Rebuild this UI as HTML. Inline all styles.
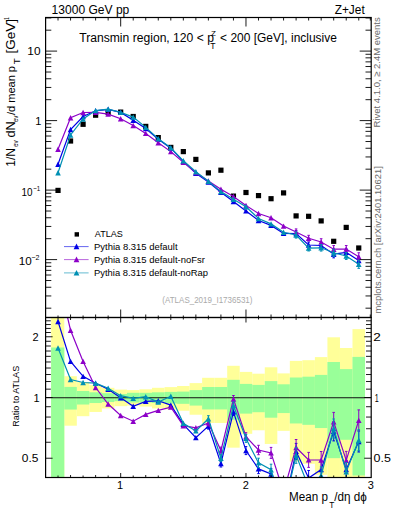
<!DOCTYPE html><html><head><meta charset="utf-8"><style>html,body{margin:0;padding:0;background:#fff;width:393px;height:512px;overflow:hidden}svg{display:block}text{font-family:"Liberation Sans",sans-serif}</style></head><body>
<svg width="393" height="512" viewBox="0 0 393 512">
<defs><clipPath id="cm"><rect x="45.6" y="17.5" width="325.59999999999997" height="300.0"/></clipPath><clipPath id="cr"><rect x="45.6" y="317.5" width="325.59999999999997" height="160.0"/></clipPath></defs>
<g clip-path="url(#cr)">
<rect x="51.10" y="250.00" width="13.20" height="350.00" fill="#ffff99"/>
<rect x="64.29" y="376.20" width="12.53" height="49.50" fill="#ffff99"/>
<rect x="76.82" y="382.10" width="12.53" height="34.10" fill="#ffff99"/>
<rect x="89.35" y="385.10" width="12.53" height="26.85" fill="#ffff99"/>
<rect x="101.88" y="387.80" width="12.53" height="20.61" fill="#ffff99"/>
<rect x="114.41" y="389.60" width="12.53" height="16.58" fill="#ffff99"/>
<rect x="126.95" y="390.10" width="12.53" height="15.48" fill="#ffff99"/>
<rect x="139.48" y="389.30" width="12.53" height="17.25" fill="#ffff99"/>
<rect x="152.00" y="387.80" width="12.53" height="20.61" fill="#ffff99"/>
<rect x="164.53" y="387.10" width="12.53" height="22.20" fill="#ffff99"/>
<rect x="177.06" y="386.00" width="12.53" height="24.74" fill="#ffff99"/>
<rect x="189.59" y="383.10" width="12.53" height="31.64" fill="#ffff99"/>
<rect x="202.12" y="377.80" width="12.53" height="45.16" fill="#ffff99"/>
<rect x="214.66" y="377.80" width="12.53" height="45.16" fill="#ffff99"/>
<rect x="227.19" y="365.80" width="12.53" height="81.87" fill="#ffff99"/>
<rect x="239.71" y="371.90" width="12.53" height="61.92" fill="#ffff99"/>
<rect x="252.25" y="373.70" width="12.53" height="56.58" fill="#ffff99"/>
<rect x="264.78" y="367.30" width="12.53" height="76.66" fill="#ffff99"/>
<rect x="277.31" y="373.40" width="12.53" height="57.46" fill="#ffff99"/>
<rect x="289.84" y="360.90" width="12.53" height="100.65" fill="#ffff99"/>
<rect x="302.37" y="360.20" width="12.53" height="103.59" fill="#ffff99"/>
<rect x="314.90" y="357.10" width="12.53" height="117.65" fill="#ffff99"/>
<rect x="327.43" y="337.30" width="12.53" height="449.20" fill="#ffff99"/>
<rect x="339.96" y="348.00" width="12.53" height="174.37" fill="#ffff99"/>
<rect x="352.49" y="329.10" width="12.53" height="270.90" fill="#ffff99"/>
<rect x="51.10" y="347.50" width="13.20" height="178.61" fill="#99ff99"/>
<rect x="64.29" y="386.90" width="12.53" height="22.66" fill="#99ff99"/>
<rect x="76.82" y="391.00" width="12.53" height="13.52" fill="#99ff99"/>
<rect x="89.35" y="392.30" width="12.53" height="10.73" fill="#99ff99"/>
<rect x="101.88" y="393.20" width="12.53" height="8.82" fill="#99ff99"/>
<rect x="114.41" y="394.00" width="12.53" height="7.15" fill="#99ff99"/>
<rect x="126.95" y="392.80" width="12.53" height="9.67" fill="#99ff99"/>
<rect x="139.48" y="392.80" width="12.53" height="9.67" fill="#99ff99"/>
<rect x="152.00" y="392.30" width="12.53" height="10.73" fill="#99ff99"/>
<rect x="164.53" y="391.90" width="12.53" height="11.58" fill="#99ff99"/>
<rect x="177.06" y="391.60" width="12.53" height="12.23" fill="#99ff99"/>
<rect x="189.59" y="390.10" width="12.53" height="15.48" fill="#99ff99"/>
<rect x="202.12" y="387.00" width="12.53" height="22.43" fill="#99ff99"/>
<rect x="214.66" y="387.00" width="12.53" height="22.43" fill="#99ff99"/>
<rect x="227.19" y="379.80" width="12.53" height="39.91" fill="#99ff99"/>
<rect x="239.71" y="383.90" width="12.53" height="29.71" fill="#99ff99"/>
<rect x="252.25" y="384.90" width="12.53" height="27.32" fill="#99ff99"/>
<rect x="264.78" y="381.10" width="12.53" height="36.59" fill="#99ff99"/>
<rect x="277.31" y="384.30" width="12.53" height="28.75" fill="#99ff99"/>
<rect x="289.84" y="377.50" width="12.53" height="45.96" fill="#99ff99"/>
<rect x="302.37" y="376.70" width="12.53" height="48.13" fill="#99ff99"/>
<rect x="314.90" y="374.90" width="12.53" height="53.14" fill="#99ff99"/>
<rect x="327.43" y="362.00" width="12.53" height="96.16" fill="#99ff99"/>
<rect x="339.96" y="369.10" width="12.53" height="70.69" fill="#99ff99"/>
<rect x="352.49" y="356.90" width="12.53" height="118.62" fill="#99ff99"/>
<line x1="45.6" y1="397.75" x2="371.2" y2="397.75" stroke="#111" stroke-width="1.1"/>
</g>
<rect x="55.43" y="187.80" width="5.2" height="5.2" fill="#000"/>
<rect x="67.96" y="138.40" width="5.2" height="5.2" fill="#000"/>
<rect x="80.49" y="121.70" width="5.2" height="5.2" fill="#000"/>
<rect x="93.02" y="112.60" width="5.2" height="5.2" fill="#000"/>
<rect x="105.55" y="110.00" width="5.2" height="5.2" fill="#000"/>
<rect x="118.08" y="109.50" width="5.2" height="5.2" fill="#000"/>
<rect x="130.61" y="113.90" width="5.2" height="5.2" fill="#000"/>
<rect x="143.14" y="123.80" width="5.2" height="5.2" fill="#000"/>
<rect x="155.67" y="135.00" width="5.2" height="5.2" fill="#000"/>
<rect x="168.20" y="144.80" width="5.2" height="5.2" fill="#000"/>
<rect x="180.73" y="149.00" width="5.2" height="5.2" fill="#000"/>
<rect x="193.26" y="156.80" width="5.2" height="5.2" fill="#000"/>
<rect x="205.79" y="170.30" width="5.2" height="5.2" fill="#000"/>
<rect x="218.32" y="167.60" width="5.2" height="5.2" fill="#000"/>
<rect x="230.85" y="193.50" width="5.2" height="5.2" fill="#000"/>
<rect x="243.38" y="189.90" width="5.2" height="5.2" fill="#000"/>
<rect x="255.91" y="193.00" width="5.2" height="5.2" fill="#000"/>
<rect x="268.44" y="196.10" width="5.2" height="5.2" fill="#000"/>
<rect x="280.97" y="190.30" width="5.2" height="5.2" fill="#000"/>
<rect x="293.50" y="213.30" width="5.2" height="5.2" fill="#000"/>
<rect x="306.03" y="213.70" width="5.2" height="5.2" fill="#000"/>
<rect x="318.56" y="218.30" width="5.2" height="5.2" fill="#000"/>
<rect x="331.09" y="238.70" width="5.2" height="5.2" fill="#000"/>
<rect x="343.62" y="224.80" width="5.2" height="5.2" fill="#000"/>
<rect x="356.15" y="245.40" width="5.2" height="5.2" fill="#000"/>
<g clip-path="url(#cm)"><polyline points="58.03,164.30 70.56,129.50 83.09,116.50 95.62,110.80 108.15,109.30 120.68,112.40 133.21,120.20 145.74,128.60 158.27,139.20 170.80,148.20 183.33,161.40 195.86,173.20 208.39,182.00 220.92,192.20 233.45,201.50 245.98,210.90 258.51,220.50 271.04,225.40 283.57,233.40 296.10,233.60 308.63,245.00 321.16,245.50 333.69,254.20 346.22,252.40 358.75,260.50" fill="none" stroke="#0000e6" stroke-width="1.2"/><path d="M296.10,230.52V236.68M294.80,230.52h2.6M294.80,236.68h2.6M308.63,242.12V247.88M307.33,242.12h2.6M307.33,247.88h2.6M321.16,242.23V248.77M319.86,242.23h2.6M319.86,248.77h2.6M333.69,250.55V257.85M332.39,250.55h2.6M332.39,257.85h2.6M346.22,248.94V255.86M344.92,248.94h2.6M344.92,255.86h2.6M358.75,256.46V264.54M357.45,256.46h2.6M357.45,264.54h2.6" stroke="#0000e6" stroke-width="1" fill="none"/><path d="M55.23,167.02L60.83,167.02L58.03,161.58Z" fill="#0000e6"/><path d="M67.76,132.22L73.36,132.22L70.56,126.78Z" fill="#0000e6"/><path d="M80.29,119.22L85.89,119.22L83.09,113.78Z" fill="#0000e6"/><path d="M92.82,113.52L98.42,113.52L95.62,108.08Z" fill="#0000e6"/><path d="M105.35,112.02L110.95,112.02L108.15,106.58Z" fill="#0000e6"/><path d="M117.88,115.12L123.48,115.12L120.68,109.68Z" fill="#0000e6"/><path d="M130.41,122.92L136.01,122.92L133.21,117.48Z" fill="#0000e6"/><path d="M142.94,131.32L148.54,131.32L145.74,125.88Z" fill="#0000e6"/><path d="M155.47,141.92L161.07,141.92L158.27,136.48Z" fill="#0000e6"/><path d="M168.00,150.92L173.60,150.92L170.80,145.48Z" fill="#0000e6"/><path d="M180.53,164.12L186.13,164.12L183.33,158.68Z" fill="#0000e6"/><path d="M193.06,175.92L198.66,175.92L195.86,170.48Z" fill="#0000e6"/><path d="M205.59,184.72L211.19,184.72L208.39,179.28Z" fill="#0000e6"/><path d="M218.12,194.92L223.72,194.92L220.92,189.48Z" fill="#0000e6"/><path d="M230.65,204.22L236.25,204.22L233.45,198.78Z" fill="#0000e6"/><path d="M243.18,213.62L248.78,213.62L245.98,208.18Z" fill="#0000e6"/><path d="M255.71,223.22L261.31,223.22L258.51,217.78Z" fill="#0000e6"/><path d="M268.24,228.12L273.84,228.12L271.04,222.68Z" fill="#0000e6"/><path d="M280.77,236.12L286.37,236.12L283.57,230.68Z" fill="#0000e6"/><path d="M293.30,236.32L298.90,236.32L296.10,230.88Z" fill="#0000e6"/><path d="M305.83,247.72L311.43,247.72L308.63,242.28Z" fill="#0000e6"/><path d="M318.36,248.22L323.96,248.22L321.16,242.78Z" fill="#0000e6"/><path d="M330.89,256.92L336.49,256.92L333.69,251.48Z" fill="#0000e6"/><path d="M343.42,255.12L349.02,255.12L346.22,249.68Z" fill="#0000e6"/><path d="M355.95,263.22L361.55,263.22L358.75,257.78Z" fill="#0000e6"/></g>
<g clip-path="url(#cm)"><polyline points="58.03,149.20 70.56,117.80 83.09,112.50 95.62,112.40 108.15,114.10 120.68,118.80 133.21,125.50 145.74,133.40 158.27,142.80 170.80,151.60 183.33,162.30 195.86,172.50 208.39,181.00 220.92,189.30 233.45,196.50 245.98,205.50 258.51,213.50 271.04,217.70 283.57,226.10 296.10,232.00 308.63,238.20 321.16,242.00 333.69,249.20 346.22,249.00 358.75,256.80" fill="none" stroke="#8c00c8" stroke-width="1.2"/><path d="M296.10,228.92V235.08M294.80,228.92h2.6M294.80,235.08h2.6M308.63,235.32V241.08M307.33,235.32h2.6M307.33,241.08h2.6M321.16,238.73V245.27M319.86,238.73h2.6M319.86,245.27h2.6M333.69,245.55V252.85M332.39,245.55h2.6M332.39,252.85h2.6M346.22,245.54V252.46M344.92,245.54h2.6M344.92,252.46h2.6M358.75,252.76V260.84M357.45,252.76h2.6M357.45,260.84h2.6" stroke="#8c00c8" stroke-width="1" fill="none"/><path d="M55.23,151.92L60.83,151.92L58.03,146.48Z" fill="#8c00c8"/><path d="M67.76,120.52L73.36,120.52L70.56,115.08Z" fill="#8c00c8"/><path d="M80.29,115.22L85.89,115.22L83.09,109.78Z" fill="#8c00c8"/><path d="M92.82,115.12L98.42,115.12L95.62,109.68Z" fill="#8c00c8"/><path d="M105.35,116.82L110.95,116.82L108.15,111.38Z" fill="#8c00c8"/><path d="M117.88,121.52L123.48,121.52L120.68,116.08Z" fill="#8c00c8"/><path d="M130.41,128.22L136.01,128.22L133.21,122.78Z" fill="#8c00c8"/><path d="M142.94,136.12L148.54,136.12L145.74,130.68Z" fill="#8c00c8"/><path d="M155.47,145.52L161.07,145.52L158.27,140.08Z" fill="#8c00c8"/><path d="M168.00,154.32L173.60,154.32L170.80,148.88Z" fill="#8c00c8"/><path d="M180.53,165.02L186.13,165.02L183.33,159.58Z" fill="#8c00c8"/><path d="M193.06,175.22L198.66,175.22L195.86,169.78Z" fill="#8c00c8"/><path d="M205.59,183.72L211.19,183.72L208.39,178.28Z" fill="#8c00c8"/><path d="M218.12,192.02L223.72,192.02L220.92,186.58Z" fill="#8c00c8"/><path d="M230.65,199.22L236.25,199.22L233.45,193.78Z" fill="#8c00c8"/><path d="M243.18,208.22L248.78,208.22L245.98,202.78Z" fill="#8c00c8"/><path d="M255.71,216.22L261.31,216.22L258.51,210.78Z" fill="#8c00c8"/><path d="M268.24,220.42L273.84,220.42L271.04,214.98Z" fill="#8c00c8"/><path d="M280.77,228.82L286.37,228.82L283.57,223.38Z" fill="#8c00c8"/><path d="M293.30,234.72L298.90,234.72L296.10,229.28Z" fill="#8c00c8"/><path d="M305.83,240.92L311.43,240.92L308.63,235.48Z" fill="#8c00c8"/><path d="M318.36,244.72L323.96,244.72L321.16,239.28Z" fill="#8c00c8"/><path d="M330.89,251.92L336.49,251.92L333.69,246.48Z" fill="#8c00c8"/><path d="M343.42,251.72L349.02,251.72L346.22,246.28Z" fill="#8c00c8"/><path d="M355.95,259.52L361.55,259.52L358.75,254.08Z" fill="#8c00c8"/></g>
<g clip-path="url(#cm)"><polyline points="58.03,172.70 70.56,135.00 83.09,119.00 95.62,110.60 108.15,109.10 120.68,112.40 133.21,117.10 145.74,127.40 158.27,138.70 170.80,147.80 183.33,160.80 195.86,171.70 208.39,181.30 220.92,191.60 233.45,199.20 245.98,206.80 258.51,218.50 271.04,223.90 283.57,232.30 296.10,235.00 308.63,248.10 321.16,247.80 333.69,252.80 346.22,256.00 358.75,264.30" fill="none" stroke="#0090b4" stroke-width="1.2"/><path d="M296.10,231.92V238.08M294.80,231.92h2.6M294.80,238.08h2.6M308.63,245.22V250.98M307.33,245.22h2.6M307.33,250.98h2.6M321.16,244.53V251.07M319.86,244.53h2.6M319.86,251.07h2.6M333.69,249.15V256.45M332.39,249.15h2.6M332.39,256.45h2.6M346.22,252.54V259.46M344.92,252.54h2.6M344.92,259.46h2.6M358.75,260.26V268.34M357.45,260.26h2.6M357.45,268.34h2.6" stroke="#0090b4" stroke-width="1" fill="none"/><path d="M55.23,175.42L60.83,175.42L58.03,169.98Z" fill="#0090b4"/><path d="M67.76,137.72L73.36,137.72L70.56,132.28Z" fill="#0090b4"/><path d="M80.29,121.72L85.89,121.72L83.09,116.28Z" fill="#0090b4"/><path d="M92.82,113.32L98.42,113.32L95.62,107.88Z" fill="#0090b4"/><path d="M105.35,111.82L110.95,111.82L108.15,106.38Z" fill="#0090b4"/><path d="M117.88,115.12L123.48,115.12L120.68,109.68Z" fill="#0090b4"/><path d="M130.41,119.82L136.01,119.82L133.21,114.38Z" fill="#0090b4"/><path d="M142.94,130.12L148.54,130.12L145.74,124.68Z" fill="#0090b4"/><path d="M155.47,141.42L161.07,141.42L158.27,135.98Z" fill="#0090b4"/><path d="M168.00,150.52L173.60,150.52L170.80,145.08Z" fill="#0090b4"/><path d="M180.53,163.52L186.13,163.52L183.33,158.08Z" fill="#0090b4"/><path d="M193.06,174.42L198.66,174.42L195.86,168.98Z" fill="#0090b4"/><path d="M205.59,184.02L211.19,184.02L208.39,178.58Z" fill="#0090b4"/><path d="M218.12,194.32L223.72,194.32L220.92,188.88Z" fill="#0090b4"/><path d="M230.65,201.92L236.25,201.92L233.45,196.48Z" fill="#0090b4"/><path d="M243.18,209.52L248.78,209.52L245.98,204.08Z" fill="#0090b4"/><path d="M255.71,221.22L261.31,221.22L258.51,215.78Z" fill="#0090b4"/><path d="M268.24,226.62L273.84,226.62L271.04,221.18Z" fill="#0090b4"/><path d="M280.77,235.02L286.37,235.02L283.57,229.58Z" fill="#0090b4"/><path d="M293.30,237.72L298.90,237.72L296.10,232.28Z" fill="#0090b4"/><path d="M305.83,250.82L311.43,250.82L308.63,245.38Z" fill="#0090b4"/><path d="M318.36,250.52L323.96,250.52L321.16,245.08Z" fill="#0090b4"/><path d="M330.89,255.52L336.49,255.52L333.69,250.08Z" fill="#0090b4"/><path d="M343.42,258.72L349.02,258.72L346.22,253.28Z" fill="#0090b4"/><path d="M355.95,267.02L361.55,267.02L358.75,261.58Z" fill="#0090b4"/></g>
<g clip-path="url(#cr)"><polyline points="58.03,321.50 70.56,361.40 83.09,376.40 95.62,383.20 108.15,389.30 120.68,397.70 133.21,406.30 145.74,401.40 158.27,400.80 170.80,405.10 183.33,424.30 195.86,437.60 208.39,426.10 220.92,463.50 233.45,411.90 245.98,450.60 258.51,468.90 271.04,474.00 283.57,510.00 296.10,451.40 308.63,478.00 321.16,469.50 333.69,431.40 346.22,469.50 358.75,441.50" fill="none" stroke="#0000e6" stroke-width="1.2"/><path d="M208.39,423.10V429.10M207.09,423.10h2.6M207.09,429.10h2.6M220.92,460.00V467.00M219.62,460.00h2.6M219.62,467.00h2.6M233.45,408.40V415.40M232.15,408.40h2.6M232.15,415.40h2.6M245.98,446.60V454.60M244.68,446.60h2.6M244.68,454.60h2.6M258.51,464.20V473.60M257.21,464.20h2.6M257.21,473.60h2.6M271.04,468.50V479.50M269.74,468.50h2.6M269.74,479.50h2.6M283.57,503.50V516.50M282.27,503.50h2.6M282.27,516.50h2.6M296.10,443.40V459.40M294.80,443.40h2.6M294.80,459.40h2.6M308.63,470.50V485.50M307.33,470.50h2.6M307.33,485.50h2.6M321.16,461.00V478.00M319.86,461.00h2.6M319.86,478.00h2.6M333.69,421.90V440.90M332.39,421.90h2.6M332.39,440.90h2.6M346.22,460.50V478.50M344.92,460.50h2.6M344.92,478.50h2.6M358.75,431.00V452.00M357.45,431.00h2.6M357.45,452.00h2.6" stroke="#0000e6" stroke-width="1" fill="none"/><path d="M55.23,324.22L60.83,324.22L58.03,318.78Z" fill="#0000e6"/><path d="M67.76,364.12L73.36,364.12L70.56,358.68Z" fill="#0000e6"/><path d="M80.29,379.12L85.89,379.12L83.09,373.68Z" fill="#0000e6"/><path d="M92.82,385.92L98.42,385.92L95.62,380.48Z" fill="#0000e6"/><path d="M105.35,392.02L110.95,392.02L108.15,386.58Z" fill="#0000e6"/><path d="M117.88,400.42L123.48,400.42L120.68,394.98Z" fill="#0000e6"/><path d="M130.41,409.02L136.01,409.02L133.21,403.58Z" fill="#0000e6"/><path d="M142.94,404.12L148.54,404.12L145.74,398.68Z" fill="#0000e6"/><path d="M155.47,403.52L161.07,403.52L158.27,398.08Z" fill="#0000e6"/><path d="M168.00,407.82L173.60,407.82L170.80,402.38Z" fill="#0000e6"/><path d="M180.53,427.02L186.13,427.02L183.33,421.58Z" fill="#0000e6"/><path d="M193.06,440.32L198.66,440.32L195.86,434.88Z" fill="#0000e6"/><path d="M205.59,428.82L211.19,428.82L208.39,423.38Z" fill="#0000e6"/><path d="M218.12,466.22L223.72,466.22L220.92,460.78Z" fill="#0000e6"/><path d="M230.65,414.62L236.25,414.62L233.45,409.18Z" fill="#0000e6"/><path d="M243.18,453.32L248.78,453.32L245.98,447.88Z" fill="#0000e6"/><path d="M255.71,471.62L261.31,471.62L258.51,466.18Z" fill="#0000e6"/><path d="M268.24,476.72L273.84,476.72L271.04,471.28Z" fill="#0000e6"/><path d="M280.77,512.72L286.37,512.72L283.57,507.28Z" fill="#0000e6"/><path d="M293.30,454.12L298.90,454.12L296.10,448.68Z" fill="#0000e6"/><path d="M305.83,480.72L311.43,480.72L308.63,475.28Z" fill="#0000e6"/><path d="M318.36,472.22L323.96,472.22L321.16,466.78Z" fill="#0000e6"/><path d="M330.89,434.12L336.49,434.12L333.69,428.68Z" fill="#0000e6"/><path d="M343.42,472.22L349.02,472.22L346.22,466.78Z" fill="#0000e6"/><path d="M355.95,444.22L361.55,444.22L358.75,438.78Z" fill="#0000e6"/></g>
<g clip-path="url(#cr)"><polyline points="58.03,277.00 70.56,330.20 83.09,361.40 95.62,387.50 108.15,404.00 120.68,415.50 133.21,421.20 145.74,414.40 158.27,410.40 170.80,407.10 183.33,425.70 195.86,427.80 208.39,422.90 220.92,450.60 233.45,399.00 245.98,436.70 258.51,450.00 271.04,452.90 283.57,492.00 296.10,447.50 308.63,459.90 321.16,460.00 333.69,421.90 346.22,460.40 358.75,420.40" fill="none" stroke="#8c00c8" stroke-width="1.2"/><path d="M208.39,419.90V425.90M207.09,419.90h2.6M207.09,425.90h2.6M220.92,447.10V454.10M219.62,447.10h2.6M219.62,454.10h2.6M233.45,395.50V402.50M232.15,395.50h2.6M232.15,402.50h2.6M245.98,432.70V440.70M244.68,432.70h2.6M244.68,440.70h2.6M258.51,445.30V454.70M257.21,445.30h2.6M257.21,454.70h2.6M271.04,447.40V458.40M269.74,447.40h2.6M269.74,458.40h2.6M283.57,485.50V498.50M282.27,485.50h2.6M282.27,498.50h2.6M296.10,439.50V455.50M294.80,439.50h2.6M294.80,455.50h2.6M308.63,452.40V467.40M307.33,452.40h2.6M307.33,467.40h2.6M321.16,451.50V468.50M319.86,451.50h2.6M319.86,468.50h2.6M333.69,412.40V431.40M332.39,412.40h2.6M332.39,431.40h2.6M346.22,451.40V469.40M344.92,451.40h2.6M344.92,469.40h2.6M358.75,409.90V430.90M357.45,409.90h2.6M357.45,430.90h2.6" stroke="#8c00c8" stroke-width="1" fill="none"/><path d="M55.23,279.72L60.83,279.72L58.03,274.28Z" fill="#8c00c8"/><path d="M67.76,332.92L73.36,332.92L70.56,327.48Z" fill="#8c00c8"/><path d="M80.29,364.12L85.89,364.12L83.09,358.68Z" fill="#8c00c8"/><path d="M92.82,390.22L98.42,390.22L95.62,384.78Z" fill="#8c00c8"/><path d="M105.35,406.72L110.95,406.72L108.15,401.28Z" fill="#8c00c8"/><path d="M117.88,418.22L123.48,418.22L120.68,412.78Z" fill="#8c00c8"/><path d="M130.41,423.92L136.01,423.92L133.21,418.48Z" fill="#8c00c8"/><path d="M142.94,417.12L148.54,417.12L145.74,411.68Z" fill="#8c00c8"/><path d="M155.47,413.12L161.07,413.12L158.27,407.68Z" fill="#8c00c8"/><path d="M168.00,409.82L173.60,409.82L170.80,404.38Z" fill="#8c00c8"/><path d="M180.53,428.42L186.13,428.42L183.33,422.98Z" fill="#8c00c8"/><path d="M193.06,430.52L198.66,430.52L195.86,425.08Z" fill="#8c00c8"/><path d="M205.59,425.62L211.19,425.62L208.39,420.18Z" fill="#8c00c8"/><path d="M218.12,453.32L223.72,453.32L220.92,447.88Z" fill="#8c00c8"/><path d="M230.65,401.72L236.25,401.72L233.45,396.28Z" fill="#8c00c8"/><path d="M243.18,439.42L248.78,439.42L245.98,433.98Z" fill="#8c00c8"/><path d="M255.71,452.72L261.31,452.72L258.51,447.28Z" fill="#8c00c8"/><path d="M268.24,455.62L273.84,455.62L271.04,450.18Z" fill="#8c00c8"/><path d="M280.77,494.72L286.37,494.72L283.57,489.28Z" fill="#8c00c8"/><path d="M293.30,450.22L298.90,450.22L296.10,444.78Z" fill="#8c00c8"/><path d="M305.83,462.62L311.43,462.62L308.63,457.18Z" fill="#8c00c8"/><path d="M318.36,462.72L323.96,462.72L321.16,457.28Z" fill="#8c00c8"/><path d="M330.89,424.62L336.49,424.62L333.69,419.18Z" fill="#8c00c8"/><path d="M343.42,463.12L349.02,463.12L346.22,457.68Z" fill="#8c00c8"/><path d="M355.95,423.12L361.55,423.12L358.75,417.68Z" fill="#8c00c8"/></g>
<g clip-path="url(#cr)"><polyline points="58.03,348.00 70.56,379.50 83.09,382.50 95.62,383.20 108.15,388.20 120.68,395.70 133.21,398.40 145.74,396.70 158.27,402.00 170.80,396.30 183.33,423.30 195.86,430.90 208.39,418.70 220.92,458.20 233.45,405.50 245.98,438.40 258.51,462.90 271.04,469.70 283.57,510.00 296.10,455.30 308.63,487.00 321.16,475.40 333.69,428.50 346.22,471.70 358.75,440.20" fill="none" stroke="#0090b4" stroke-width="1.2"/><path d="M208.39,415.70V421.70M207.09,415.70h2.6M207.09,421.70h2.6M220.92,454.70V461.70M219.62,454.70h2.6M219.62,461.70h2.6M233.45,402.00V409.00M232.15,402.00h2.6M232.15,409.00h2.6M245.98,434.40V442.40M244.68,434.40h2.6M244.68,442.40h2.6M258.51,458.20V467.60M257.21,458.20h2.6M257.21,467.60h2.6M271.04,464.20V475.20M269.74,464.20h2.6M269.74,475.20h2.6M283.57,503.50V516.50M282.27,503.50h2.6M282.27,516.50h2.6M296.10,447.30V463.30M294.80,447.30h2.6M294.80,463.30h2.6M308.63,479.50V494.50M307.33,479.50h2.6M307.33,494.50h2.6M321.16,466.90V483.90M319.86,466.90h2.6M319.86,483.90h2.6M333.69,419.00V438.00M332.39,419.00h2.6M332.39,438.00h2.6M346.22,462.70V480.70M344.92,462.70h2.6M344.92,480.70h2.6M358.75,429.70V450.70M357.45,429.70h2.6M357.45,450.70h2.6" stroke="#0090b4" stroke-width="1" fill="none"/><path d="M55.23,350.72L60.83,350.72L58.03,345.28Z" fill="#0090b4"/><path d="M67.76,382.22L73.36,382.22L70.56,376.78Z" fill="#0090b4"/><path d="M80.29,385.22L85.89,385.22L83.09,379.78Z" fill="#0090b4"/><path d="M92.82,385.92L98.42,385.92L95.62,380.48Z" fill="#0090b4"/><path d="M105.35,390.92L110.95,390.92L108.15,385.48Z" fill="#0090b4"/><path d="M117.88,398.42L123.48,398.42L120.68,392.98Z" fill="#0090b4"/><path d="M130.41,401.12L136.01,401.12L133.21,395.68Z" fill="#0090b4"/><path d="M142.94,399.42L148.54,399.42L145.74,393.98Z" fill="#0090b4"/><path d="M155.47,404.72L161.07,404.72L158.27,399.28Z" fill="#0090b4"/><path d="M168.00,399.02L173.60,399.02L170.80,393.58Z" fill="#0090b4"/><path d="M180.53,426.02L186.13,426.02L183.33,420.58Z" fill="#0090b4"/><path d="M193.06,433.62L198.66,433.62L195.86,428.18Z" fill="#0090b4"/><path d="M205.59,421.42L211.19,421.42L208.39,415.98Z" fill="#0090b4"/><path d="M218.12,460.92L223.72,460.92L220.92,455.48Z" fill="#0090b4"/><path d="M230.65,408.22L236.25,408.22L233.45,402.78Z" fill="#0090b4"/><path d="M243.18,441.12L248.78,441.12L245.98,435.68Z" fill="#0090b4"/><path d="M255.71,465.62L261.31,465.62L258.51,460.18Z" fill="#0090b4"/><path d="M268.24,472.42L273.84,472.42L271.04,466.98Z" fill="#0090b4"/><path d="M280.77,512.72L286.37,512.72L283.57,507.28Z" fill="#0090b4"/><path d="M293.30,458.02L298.90,458.02L296.10,452.58Z" fill="#0090b4"/><path d="M305.83,489.72L311.43,489.72L308.63,484.28Z" fill="#0090b4"/><path d="M318.36,478.12L323.96,478.12L321.16,472.68Z" fill="#0090b4"/><path d="M330.89,431.22L336.49,431.22L333.69,425.78Z" fill="#0090b4"/><path d="M343.42,474.42L349.02,474.42L346.22,468.98Z" fill="#0090b4"/><path d="M355.95,442.92L361.55,442.92L358.75,437.48Z" fill="#0090b4"/></g>
<g fill="none" stroke="#000" stroke-width="1.2"><rect x="45.6" y="17.5" width="325.59999999999997" height="300.0"/><rect x="45.6" y="317.5" width="325.59999999999997" height="160.0"/></g>
<path d="M58.03,17.5v3M58.03,317.5v-2M58.03,317.5v2M58.03,477.5v-2M70.56,17.5v3M70.56,317.5v-3M70.56,317.5v2.5M70.56,477.5v-2.5M83.09,17.5v3M83.09,317.5v-2M83.09,317.5v2M83.09,477.5v-2M95.62,17.5v3M95.62,317.5v-3M95.62,317.5v2.5M95.62,477.5v-2.5M108.15,17.5v3M108.15,317.5v-2M108.15,317.5v2M108.15,477.5v-2M120.68,17.5v9M120.68,317.5v-8M120.68,317.5v5M120.68,477.5v-4.5M133.21,17.5v3M133.21,317.5v-2M133.21,317.5v2M133.21,477.5v-2M145.74,17.5v3M145.74,317.5v-3M145.74,317.5v2.5M145.74,477.5v-2.5M158.27,17.5v3M158.27,317.5v-2M158.27,317.5v2M158.27,477.5v-2M170.80,17.5v3M170.80,317.5v-3M170.80,317.5v2.5M170.80,477.5v-2.5M183.33,17.5v3M183.33,317.5v-2M183.33,317.5v2M183.33,477.5v-2M195.86,17.5v3M195.86,317.5v-3M195.86,317.5v2.5M195.86,477.5v-2.5M208.39,17.5v3M208.39,317.5v-2M208.39,317.5v2M208.39,477.5v-2M220.92,17.5v3M220.92,317.5v-3M220.92,317.5v2.5M220.92,477.5v-2.5M233.45,17.5v3M233.45,317.5v-2M233.45,317.5v2M233.45,477.5v-2M245.98,17.5v9M245.98,317.5v-8M245.98,317.5v5M245.98,477.5v-4.5M258.51,17.5v3M258.51,317.5v-2M258.51,317.5v2M258.51,477.5v-2M271.04,17.5v3M271.04,317.5v-3M271.04,317.5v2.5M271.04,477.5v-2.5M283.57,17.5v3M283.57,317.5v-2M283.57,317.5v2M283.57,477.5v-2M296.10,17.5v3M296.10,317.5v-3M296.10,317.5v2.5M296.10,477.5v-2.5M308.63,17.5v3M308.63,317.5v-2M308.63,317.5v2M308.63,477.5v-2M321.16,17.5v3M321.16,317.5v-3M321.16,317.5v2.5M321.16,477.5v-2.5M333.69,17.5v3M333.69,317.5v-2M333.69,317.5v2M333.69,477.5v-2M346.22,17.5v3M346.22,317.5v-3M346.22,317.5v2.5M346.22,477.5v-2.5M358.75,17.5v3M358.75,317.5v-2M358.75,317.5v2M358.75,477.5v-2M45.6,308.18h5.7M371.2,308.18h-5.7M45.6,295.94h5.7M371.2,295.94h-5.7M45.6,287.26h5.7M371.2,287.26h-5.7M45.6,280.52h5.7M371.2,280.52h-5.7M45.6,275.02h5.7M371.2,275.02h-5.7M45.6,270.37h5.7M371.2,270.37h-5.7M45.6,266.34h5.7M371.2,266.34h-5.7M45.6,262.78h5.7M371.2,262.78h-5.7M45.6,259.60h11.5M371.2,259.60h-11.5M45.6,238.68h5.7M371.2,238.68h-5.7M45.6,226.44h5.7M371.2,226.44h-5.7M45.6,217.76h5.7M371.2,217.76h-5.7M45.6,211.02h5.7M371.2,211.02h-5.7M45.6,205.52h5.7M371.2,205.52h-5.7M45.6,200.87h5.7M371.2,200.87h-5.7M45.6,196.84h5.7M371.2,196.84h-5.7M45.6,193.28h5.7M371.2,193.28h-5.7M45.6,190.10h11.5M371.2,190.10h-11.5M45.6,169.18h5.7M371.2,169.18h-5.7M45.6,156.94h5.7M371.2,156.94h-5.7M45.6,148.26h5.7M371.2,148.26h-5.7M45.6,141.52h5.7M371.2,141.52h-5.7M45.6,136.02h5.7M371.2,136.02h-5.7M45.6,131.37h5.7M371.2,131.37h-5.7M45.6,127.34h5.7M371.2,127.34h-5.7M45.6,123.78h5.7M371.2,123.78h-5.7M45.6,120.60h11.5M371.2,120.60h-11.5M45.6,99.68h5.7M371.2,99.68h-5.7M45.6,87.44h5.7M371.2,87.44h-5.7M45.6,78.76h5.7M371.2,78.76h-5.7M45.6,72.02h5.7M371.2,72.02h-5.7M45.6,66.52h5.7M371.2,66.52h-5.7M45.6,61.87h5.7M371.2,61.87h-5.7M45.6,57.84h5.7M371.2,57.84h-5.7M45.6,54.28h5.7M371.2,54.28h-5.7M45.6,51.10h11.5M371.2,51.10h-11.5M45.6,30.18h5.7M371.2,30.18h-5.7M45.6,17.94h5.7M371.2,17.94h-5.7M45.6,458.22h7M371.2,458.22h-7M45.6,442.25h5.2M371.2,442.25h-5.2M45.6,428.74h5.2M371.2,428.74h-5.2M45.6,417.05h5.2M371.2,417.05h-5.2M45.6,406.73h5.2M371.2,406.73h-5.2M45.6,397.50h7M371.2,397.50h-7M45.6,389.15h5.2M371.2,389.15h-5.2M45.6,381.53h5.2M371.2,381.53h-5.2M45.6,374.52h5.2M371.2,374.52h-5.2M45.6,368.03h5.2M371.2,368.03h-5.2M45.6,361.98h5.2M371.2,361.98h-5.2M45.6,356.33h5.2M371.2,356.33h-5.2M45.6,351.02h5.2M371.2,351.02h-5.2M45.6,346.01h5.2M371.2,346.01h-5.2M45.6,341.28h5.2M371.2,341.28h-5.2M45.6,336.78h7M371.2,336.78h-7M45.6,332.51h5.2M371.2,332.51h-5.2M45.6,328.43h5.2M371.2,328.43h-5.2M45.6,324.54h5.2M371.2,324.54h-5.2M45.6,320.81h5.2M371.2,320.81h-5.2M370.3,17.5v3M370.3,317.5v-3" stroke="#000" stroke-width="0.9" fill="none"/>
<rect x="74.6" y="232.2" width="4.4" height="4.4" fill="#000"/>
<text x="94.78" y="236.70" font-size="8.8" textLength="28.02" lengthAdjust="spacingAndGlyphs" >ATLAS</text>
<line x1="64" y1="246.6" x2="88.6" y2="246.6" stroke="#0000e6" stroke-width="1" opacity="0.6"/>
<path d="M73.60,249.21L79.40,249.21L76.50,243.59Z" fill="#0000e6"/>
<text x="94.02" y="249.80" font-size="8.8" textLength="83.54" lengthAdjust="spacingAndGlyphs" >Pythia 8.315 default</text>
<line x1="64" y1="259.6" x2="88.6" y2="259.6" stroke="#8c00c8" stroke-width="1" opacity="0.6"/>
<path d="M73.60,262.21L79.40,262.21L76.50,256.59Z" fill="#8c00c8"/>
<text x="94.02" y="262.70" font-size="8.8" textLength="110.83" lengthAdjust="spacingAndGlyphs" >Pythia 8.315 default-noFsr</text>
<line x1="64" y1="272.9" x2="88.6" y2="272.9" stroke="#0090b4" stroke-width="1" opacity="0.6"/>
<path d="M73.60,275.51L79.40,275.51L76.50,269.89Z" fill="#0090b4"/>
<text x="94.03" y="275.60" font-size="8.8" textLength="113.97" lengthAdjust="spacingAndGlyphs" >Pythia 8.315 default-noRap</text>
<text x="51.58" y="13.70" font-size="12" textLength="77.72" lengthAdjust="spacingAndGlyphs" >13000 GeV pp</text>
<text x="334.72" y="13.50" font-size="12" textLength="29.96" lengthAdjust="spacingAndGlyphs" >Z+Jet</text>
<text x="79.23" y="41.90" font-size="12" textLength="134.68" lengthAdjust="spacingAndGlyphs" >Transmin region, 120 &lt; p</text>
<text x="210.9" y="35.7" font-size="8">Z</text><text x="210.3" y="48.9" font-size="8.6">T</text>
<text x="220.11" y="41.90" font-size="12" textLength="116.82" lengthAdjust="spacingAndGlyphs" >&lt; 200 [GeV], inclusive</text>
<text x="162.31" y="302.70" font-size="8.2" textLength="90.19" lengthAdjust="spacingAndGlyphs" fill="#aaa">(ATLAS_2019_I1736531)</text>
<text x="289.04" y="501.30" font-size="12" textLength="38.84" lengthAdjust="spacingAndGlyphs" >Mean p</text>
<text x="329.2" y="507.8" font-size="8.4">T</text>
<text x="334.20" y="501.30" font-size="12" textLength="32.56" lengthAdjust="spacingAndGlyphs" >/dη dϕ</text>
<text x="27.3" y="55.2" font-size="11" lengthAdjust="spacingAndGlyphs" textLength="13.2">10</text>
<text x="35.2" y="125.2" font-size="11" lengthAdjust="spacingAndGlyphs">1</text>
<text x="21.6" y="196.3" font-size="11" lengthAdjust="spacingAndGlyphs" textLength="11">10</text>
<text x="18.8" y="264.7" font-size="11" lengthAdjust="spacingAndGlyphs" textLength="13">10</text>
<text x="33.2" y="191.2" font-size="7.5" textLength="7" lengthAdjust="spacingAndGlyphs">−1</text><text x="31.4" y="259.7" font-size="7.5" textLength="8" lengthAdjust="spacingAndGlyphs">−2</text>
<text x="32.6" y="341.3" font-size="11" lengthAdjust="spacingAndGlyphs">2</text><text x="33.5" y="401.8" font-size="11" lengthAdjust="spacingAndGlyphs">1</text><text x="21.8" y="462.4" font-size="11" lengthAdjust="spacingAndGlyphs" textLength="16.6">0.5</text>
<text x="117" y="489" font-size="11" lengthAdjust="spacingAndGlyphs">1</text><text x="242.8" y="488.6" font-size="11" lengthAdjust="spacingAndGlyphs">2</text><text x="367.8" y="489" font-size="11" lengthAdjust="spacingAndGlyphs">3</text>
<text x="373.32" y="341.20" font-size="11" textLength="7.57" lengthAdjust="spacingAndGlyphs" >2</text>
<text x="374.65" y="402.00" font-size="11" textLength="4.00" lengthAdjust="spacingAndGlyphs" >1</text>
<text x="373.51" y="462.20" font-size="11" textLength="17.31" lengthAdjust="spacingAndGlyphs" >0.5</text>
<g transform="rotate(-90)">
<text x="-166.72" y="14.80" font-size="12" textLength="18.69" lengthAdjust="spacingAndGlyphs" >1/N</text>
<text x="-147.07" y="18.20" font-size="6.8" textLength="6.69" lengthAdjust="spacingAndGlyphs" >ev</text>
<text x="-137.54" y="14.80" font-size="12.3" textLength="16.38" lengthAdjust="spacingAndGlyphs" >dN</text>
<text x="-122.17" y="18.20" font-size="6.8" textLength="6.69" lengthAdjust="spacingAndGlyphs" >ev</text>
<text x="-115.00" y="14.80" font-size="11.8" textLength="48.96" lengthAdjust="spacingAndGlyphs" >/d mean p</text>
<text x="-64.22" y="20.20" font-size="8.4" textLength="6.05" lengthAdjust="spacingAndGlyphs" >T</text>
<text x="-53.57" y="14.80" font-size="12.6" textLength="34.63" lengthAdjust="spacingAndGlyphs" >[GeV]</text>
<text x="-22.85" y="8.60" font-size="6.5" textLength="5.69" lengthAdjust="spacingAndGlyphs" >−1</text>
<text x="-426.83" y="18.75" font-size="9" textLength="60.98" lengthAdjust="spacingAndGlyphs" >Ratio to ATLAS</text>
<text x="-127.38" y="380.20" font-size="9.5" textLength="110.12" lengthAdjust="spacingAndGlyphs" fill="#6a6a6a">Rivet 4.1.0, ≥ 2.4M events</text>
<text x="-313.62" y="381.20" font-size="9.3" textLength="147.39" lengthAdjust="spacingAndGlyphs" fill="#6a6a6a">mcplots.cern.ch [arXiv:2401.10621]</text>
</g>
</svg></body></html>
